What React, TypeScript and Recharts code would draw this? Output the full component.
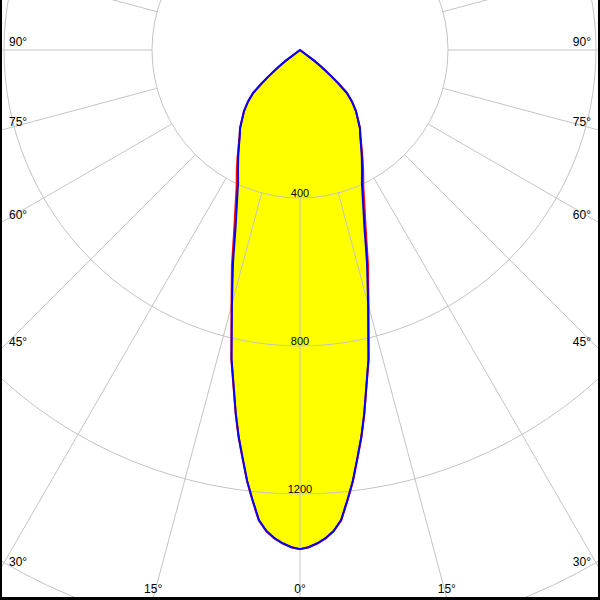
import React from 'react';
import { RadarChart, Radar, PolarGrid, PolarAngleAxis, PolarRadiusAxis } from 'recharts';

// gamma angles in degrees from nadir, one half plane
const GAMMA = [
  0, 1, 2, 3, 4, 5, 6, 7, 8, 9, 10, 12.5, 15, 17.5, 20, 22.5, 25, 27.5, 30, 32.5, 35, 37.5, 40, 42.5, 45, 47.5, 49,
  50, 51, 52, 53, 180,
];

// intensity in cd, C90 / C270 plane (blue)
const BLUE_RIGHT = [
  1349, 1344, 1334, 1321, 1303, 1275, 1224, 1173, 1114, 1059, 999, 855, 711, 602, 509, 445, 396, 363, 334, 307, 284,
  266, 243, 224, 200, 172, 136, 110, 90, 72, 50, 0,
];
const BLUE_LEFT = [
  1349, 1344, 1334, 1321, 1303, 1275, 1224, 1173, 1114, 1059, 999, 855, 711, 602, 509, 445, 396, 363, 334, 307, 284,
  266, 243, 224, 200, 172, 136, 110, 90, 72, 50, 0,
];

// intensity in cd, C0 / C180 plane (red)
const RED_RIGHT = [
  1349, 1344, 1335, 1322, 1304, 1276, 1225, 1174, 1115, 1060, 1000, 857, 715, 612, 520, 455, 405, 370, 338, 309, 285,
  266, 243, 224, 200, 172, 136, 110, 90, 72, 50, 0,
];
const RED_LEFT = [
  1349, 1344, 1335, 1322, 1304, 1276, 1225, 1174, 1115, 1060, 1000, 857, 715, 612, 520, 455, 405, 370, 338, 309, 285,
  266, 243, 224, 200, 172, 136, 110, 90, 72, 50, 0,
];

const ANGLE_TICKS = [0, 15, 30, 45, 60, 75, 90, 270, 285, 300, 315, 330, 345];
const RADIUS_TICKS = [400, 800, 1200];
const GRID_CD = [400, 800, 1200, 1600];
const SPOKES = [0, 15, 30, 45, 60, 75, 90, 105, 120, 135, 150, 165, 180, 195, 210, 225, 240, 255, 270, 285, 300, 315, 330, 345];

const W = 600;
const H = 600;
const CX = 300;
const CY = 50;
const MAX_CD = 1600;
const OUTER = 592;
const FONT = '"Liberation Sans", Arial, sans-serif';

// right half goes 0 -> 180, left half comes back 180 -> 360
const data = [
  ...GAMMA.map((g, i) => ({ angle: g, blue: BLUE_RIGHT[i], red: RED_RIGHT[i] })),
  ...GAMMA.map((g, i) => ({ angle: 360 - g, blue: BLUE_LEFT[i], red: RED_LEFT[i] }))
    .slice(1, -1)
    .reverse(),
];

const AngleTick = (props: any) => {
  const g = props.payload.value as number;
  const shown = g > 180 ? 360 - g : g;
  const side = g > 180 ? -1 : 1;
  const rad = (shown * Math.PI) / 180;
  const sin = Math.sin(rad);
  const cos = Math.cos(rad);
  const tSide = sin > 0.0001 ? CX / sin : Infinity;
  const tBottom = cos > 0.0001 ? (H - 2 - CY) / cos : Infinity;
  if (tBottom <= tSide) {
    return (
      <text x={CX + side * tBottom * sin} y={593} textAnchor="middle" fontSize={12} fontFamily={FONT} fill="#000">
        {`${shown}°`}
      </text>
    );
  }
  const exitY = CY + tSide * cos;
  return (
    <text
      x={side > 0 ? 591 : 9}
      y={exitY - 4}
      textAnchor={side > 0 ? 'end' : 'start'}
      fontSize={12}
      fontFamily={FONT}
      fill="#000"
    >
      {`${shown}°`}
    </text>
  );
};

const RadiusTick = (props: any) => (
  <text x={props.x} y={props.y - 1} textAnchor="middle" fontSize={11} fontFamily={FONT} fill="#000">
    {props.payload.value}
  </text>
);

const layer: React.CSSProperties = { position: 'absolute', left: 0, top: 0 };
const common = {
  width: W,
  height: H,
  cx: CX,
  cy: CY,
  startAngle: -90,
  endAngle: 270,
  margin: { top: 0, right: 0, bottom: 0, left: 0 },
};

export default function App() {
  return (
    <div style={{ position: 'absolute', left: 0, top: 0, width: W, height: H, background: '#fff', overflow: 'hidden' }}>
      {/* yellow body */}
      <div style={layer}>
        <RadarChart {...common} outerRadius={OUTER} data={data}>
          <PolarAngleAxis type="number" dataKey="angle" domain={[0, 360]} tick={false} axisLine={false} tickLine={false} />
          <PolarRadiusAxis type="number" domain={[0, MAX_CD]} tick={false} axisLine={false} />
          <Radar
            dataKey="red"
            fill="#ffff00"
            fillOpacity={1}
            stroke="none"
            activeDot={false}
            isAnimationActive={false}
          />
        </RadarChart>
      </div>
      {/* grid, spokes start at the first circle */}
      <div style={layer}>
        <RadarChart {...common} innerRadius={(GRID_CD[0] / MAX_CD) * OUTER} outerRadius={660} data={data}>
          <PolarGrid
            gridType="circle"
            polarAngles={SPOKES}
            polarRadius={GRID_CD.map((v) => (v / MAX_CD) * OUTER)}
            stroke="#c4c4c4"
            strokeWidth={1}
          />
        </RadarChart>
      </div>
      {/* outlines and labels */}
      <div style={layer}>
        <RadarChart {...common} outerRadius={OUTER} data={data}>
          <PolarAngleAxis
            type="number"
            dataKey="angle"
            domain={[0, 360]}
            ticks={ANGLE_TICKS}
            tick={AngleTick}
            axisLine={false}
            tickLine={false}
          />
          <PolarRadiusAxis
            type="number"
            angle={-90}
            domain={[0, MAX_CD]}
            ticks={RADIUS_TICKS}
            tick={RadiusTick}
            axisLine={false}
          />
          <Radar
            dataKey="red"
            fill="none"
            stroke="#ff0000"
            strokeWidth={2}
            strokeLinejoin="round"
            activeDot={false}
            isAnimationActive={false}
          />
          <Radar
            dataKey="blue"
            fill="none"
            stroke="#0000ff"
            strokeWidth={2}
            strokeLinejoin="round"
            activeDot={false}
            isAnimationActive={false}
          />
        </RadarChart>
      </div>
      <div
        style={{
          ...layer,
          width: W,
          height: H,
          boxSizing: 'border-box',
          borderLeft: '2px solid #000',
          borderRight: '2px solid #000',
          borderBottom: '3px solid #000',
          pointerEvents: 'none',
        }}
      />
    </div>
  );
}
